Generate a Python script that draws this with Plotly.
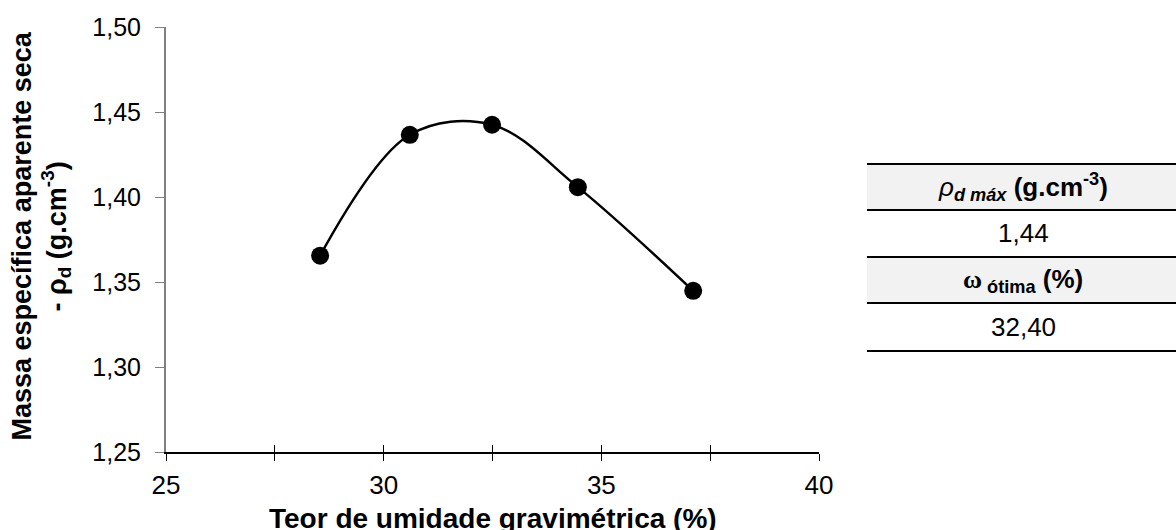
import plotly.graph_objects as go

# ---- data ----
umidade = [28.54, 30.60, 32.49, 34.46, 37.11]
massa = [1.3655, 1.4366, 1.4425, 1.4058, 1.3448]
x_ticks = [25, 30, 35, 40]
y_ticks = [1.25, 1.30, 1.35, 1.40, 1.45, 1.50]
tabela_titulos = ["<i>ρ</i><sub><i><b>d máx</b></i></sub><b> (g.cm<sup>-3</sup>)</b>",
                  "<b><span style=\"font-family:'Liberation Serif'\">ω</span></b><sub><b> ótima</b></sub><b> (%)</b>"]
tabela_valores = ["1,44", "32,40"]
titulo_fig = "Figura 4 - Curva de compactação"
titulo_x = "Teor de umidade gravimétrica (%)"
titulo_y = "Massa específica aparente seca<br>- ρ<sub>d</sub> (g.cm<sup>-3</sup>)"

W, H = 1176, 530
L, R, T, B = 166, 819, 27, 452
FONT = "Liberation Sans, Arial, sans-serif"


def px(x):
    return (x - L) / (R - L)


def py(y):
    return (B - y) / (B - T)


fig = go.Figure()
fig.add_trace(go.Scatter(
    x=umidade, y=massa, mode="lines+markers",
    line=dict(shape="spline", color="black", width=2.5),
    marker=dict(size=18, color="black"),
    showlegend=False, hoverinfo="skip"))
# empty trace to activate the overlay axis (inside half of the crossing ticks)
fig.add_trace(go.Scatter(x=[None], y=[None], xaxis="x2", showlegend=False, hoverinfo="skip"))

fig.update_layout(
    width=W, height=H,
    margin=dict(l=L, r=W - R, t=T, b=H - B),
    paper_bgcolor="white", plot_bgcolor="white",
    separators=",.",
    font=dict(family=FONT, color="black", size=26),
    xaxis=dict(range=[25, 40], tickvals=x_ticks, ticktext=[str(v) for v in x_ticks],
               showgrid=False, zeroline=False, showline=True, linecolor="black", linewidth=1.5,
               ticks="outside", ticklen=7, tickwidth=1.2, tickcolor="black",
               minor=dict(dtick=2.5, tick0=25, ticks="outside", ticklen=7, tickwidth=1.2, tickcolor="black"),
               tickfont=dict(size=26), ticklabelstandoff=2),
    xaxis2=dict(range=[25, 40], overlaying="x", anchor="y", side="bottom", matches="x",
                showgrid=False, zeroline=False, showline=False, showticklabels=False,
                ticks="inside", ticklen=7, tickwidth=1.2, tickcolor="black", dtick=2.5, tick0=25),
    yaxis=dict(range=[1.25, 1.50], tickvals=y_ticks, tickformat=".2f",
               showgrid=False, zeroline=False, showline=True, linecolor="#808080", linewidth=2,
               ticks="outside", ticklen=9, tickwidth=1.2, tickcolor="#808080",
               tickfont=dict(size=25), ticklabelstandoff=9),
)

# figure caption (cropped at the top of the picture: only descenders show)
fig.add_annotation(text="<b>" + titulo_fig + "</b>", xref="paper", yref="paper",
                   x=px(-29), y=py(-17), xanchor="left", yanchor="middle", showarrow=False,
                   font=dict(size=28))
# axis titles
fig.add_annotation(text="<b>" + titulo_x + "</b>", xref="paper", yref="paper",
                   x=px((L + R) / 2), y=py(501), xanchor="center", yanchor="top", showarrow=False,
                   font=dict(size=28))
fig.add_annotation(text="<b>" + titulo_y + "</b>", xref="paper", yref="paper",
                   x=px(40.5), y=py(236), xanchor="center", yanchor="middle", textangle=-90,
                   showarrow=False, font=dict(size=27))

# summary table at right
lines_y = [164, 210, 257, 303, 351]
tx0, tx1 = 867, 1180
for i in (0, 2):
    fig.add_shape(type="rect", xref="paper", yref="paper", x0=px(tx0), x1=px(tx1),
                  y0=py(lines_y[i + 1]), y1=py(lines_y[i]), fillcolor="#f2f2f2",
                  line=dict(width=0), layer="below")
for yy in lines_y:
    fig.add_shape(type="line", xref="paper", yref="paper", x0=px(tx0), x1=px(tx1),
                  y0=py(yy), y1=py(yy), line=dict(color="black", width=2))
cells = [tabela_titulos[0], tabela_valores[0], tabela_titulos[1], tabela_valores[1]]
for i, txt in enumerate(cells):
    yc = (lines_y[i] + lines_y[i + 1]) / 2
    fig.add_annotation(text=txt, xref="paper", yref="paper", x=px(1023), y=py(yc),
                       xanchor="center", yanchor="middle", showarrow=False, font=dict(size=26))

# page without the default 8px body margin so the figure fills the window
fig.write_html("out.html", config={"displayModeBar": False},
               post_script="document.body.style.margin='0';")
